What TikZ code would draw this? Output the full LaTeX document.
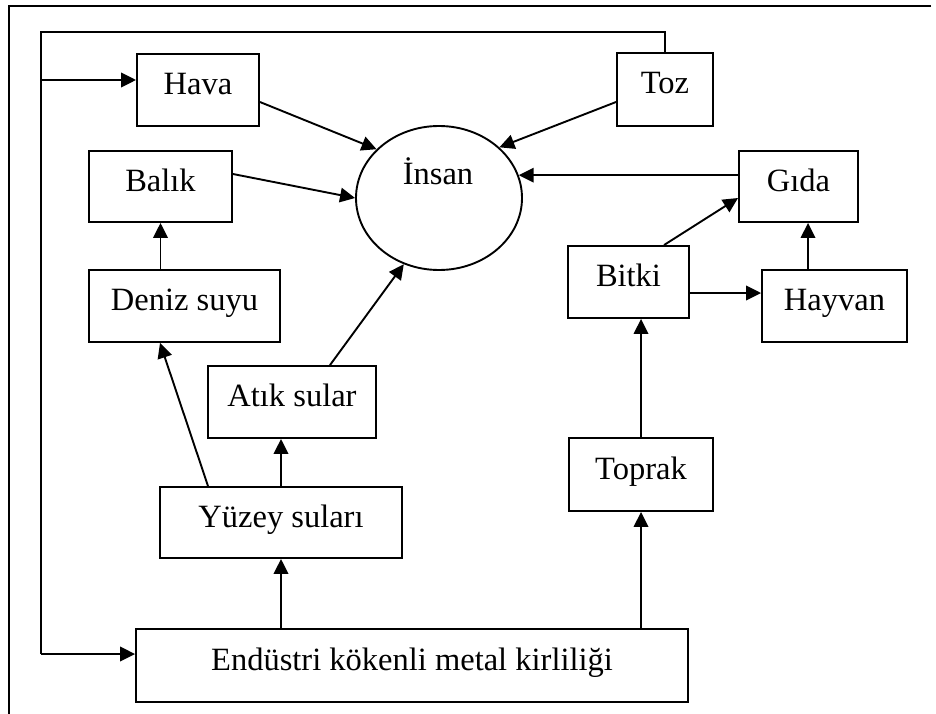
\documentclass[tikz,border=0pt]{standalone}
\usepackage{fontspec}
\setmainfont{Liberation Serif}
\usetikzlibrary{arrows.meta,shapes.geometric}
\begin{document}
\begin{tikzpicture}[x=1pt,y=-1pt,
  box/.style={draw,line width=1.9pt,rectangle,inner sep=0pt,
    font=\fontsize{32.5}{36}\selectfont,text height=22pt,text depth=13pt},
  conn/.style={line width=1.9pt},
  arr/.style={line width=1.9pt,-{Triangle[length=15pt,width=14.5pt]}},
  frame/.style={line width=2.6pt}]
\useasboundingbox (0,0) rectangle (936,714);
\draw[frame] (931,6) -- (9,6) -- (9,714);

\node[box,minimum width=122pt,minimum height=72pt] (hava) at (198,90) {Hava};
\node[box,minimum width=96pt,minimum height=73pt] (toz) at (665,89.5) {Toz};
\node[box,minimum width=143pt,minimum height=71pt] (balik) at (160.5,186.5) {Balık};
\node[box,minimum width=191pt,minimum height=72pt] (deniz) at (184.5,306) {Deniz suyu};
\node[box,minimum width=168pt,minimum height=72pt] (atik) at (292,402) {Atık sular};
\node[box,minimum width=242pt,minimum height=71pt] (yuzey) at (281,522.5) {Yüzey suları};
\node[box,minimum width=552pt,minimum height=73pt] (endustri) at (412,665.5) {Endüstri kökenli metal kirliliği};
\node[box,minimum width=119pt,minimum height=71pt] (gida) at (798.5,186.5) {Gıda};
\node[box,minimum width=121pt,minimum height=72pt] (bitki) at (628.5,282) {Bitki};
\node[box,minimum width=145pt,minimum height=72pt] (hayvan) at (834.5,306) {Hayvan};
\node[box,minimum width=144pt,minimum height=73pt] (toprak) at (641,474.5) {Toprak};
\node[draw,ellipse,line width=1.9pt,inner sep=0pt,minimum width=166pt,minimum height=144pt] (insan) at (439,198) {};
\node[font=\fontsize{32.5}{36}\selectfont,anchor=base,inner sep=0pt] (insantext) at (438,185) {İnsan};

% feedback loop
\coordinate (loopTR) at (665,32);
\coordinate (loopTL) at (41,32);
\coordinate (loopBL) at (41,654);
\coordinate (loopH) at (41,80);
\draw[conn] (toz.north) -- (loopTR) -- (loopTL) -- (loopBL);
\draw[arr] (loopBL) -- (loopBL -| endustri.west);
\draw[arr] (loopH) -- (loopH -| hava.west);

% into İnsan
\draw[arr] ([yshift=-12pt]hava.east) -- (insan.142);
\draw[arr] ([yshift=-12.5pt]toz.west) -- (insan.40);
\draw[arr] ([yshift=12.5pt]balik.east) -- (insan.180);
\draw[arr] (gida.west |- insan.16) -- (insan.16);
\draw[arr] ([xshift=38pt]atik.north) -- (insan.242);

% left chain
\draw[arr] (deniz.north -| balik.south) -- (balik.south);
\draw[arr] ([xshift=-73pt]yuzey.north) -- ([xshift=-24.5pt]deniz.south);
\draw[arr] (yuzey.north) -- (yuzey.north |- atik.south);
\draw[arr] (endustri.north -| yuzey.south) -- (yuzey.south);

% right chain
\draw[arr] (endustri.north -| toprak.south) -- (toprak.south);
\draw[arr] (toprak.north) -- (toprak.north |- bitki.south);
\draw[arr] ([xshift=35.5pt]bitki.north) -- ([yshift=-11.5pt]gida.west);
\draw[arr] ([yshift=-11pt]bitki.east) coordinate (bh) -- (bh -| hayvan.west);
\draw[arr] ([xshift=-26.5pt]hayvan.north) coordinate (hg) -- (hg |- gida.south);
\end{tikzpicture}
\end{document}
